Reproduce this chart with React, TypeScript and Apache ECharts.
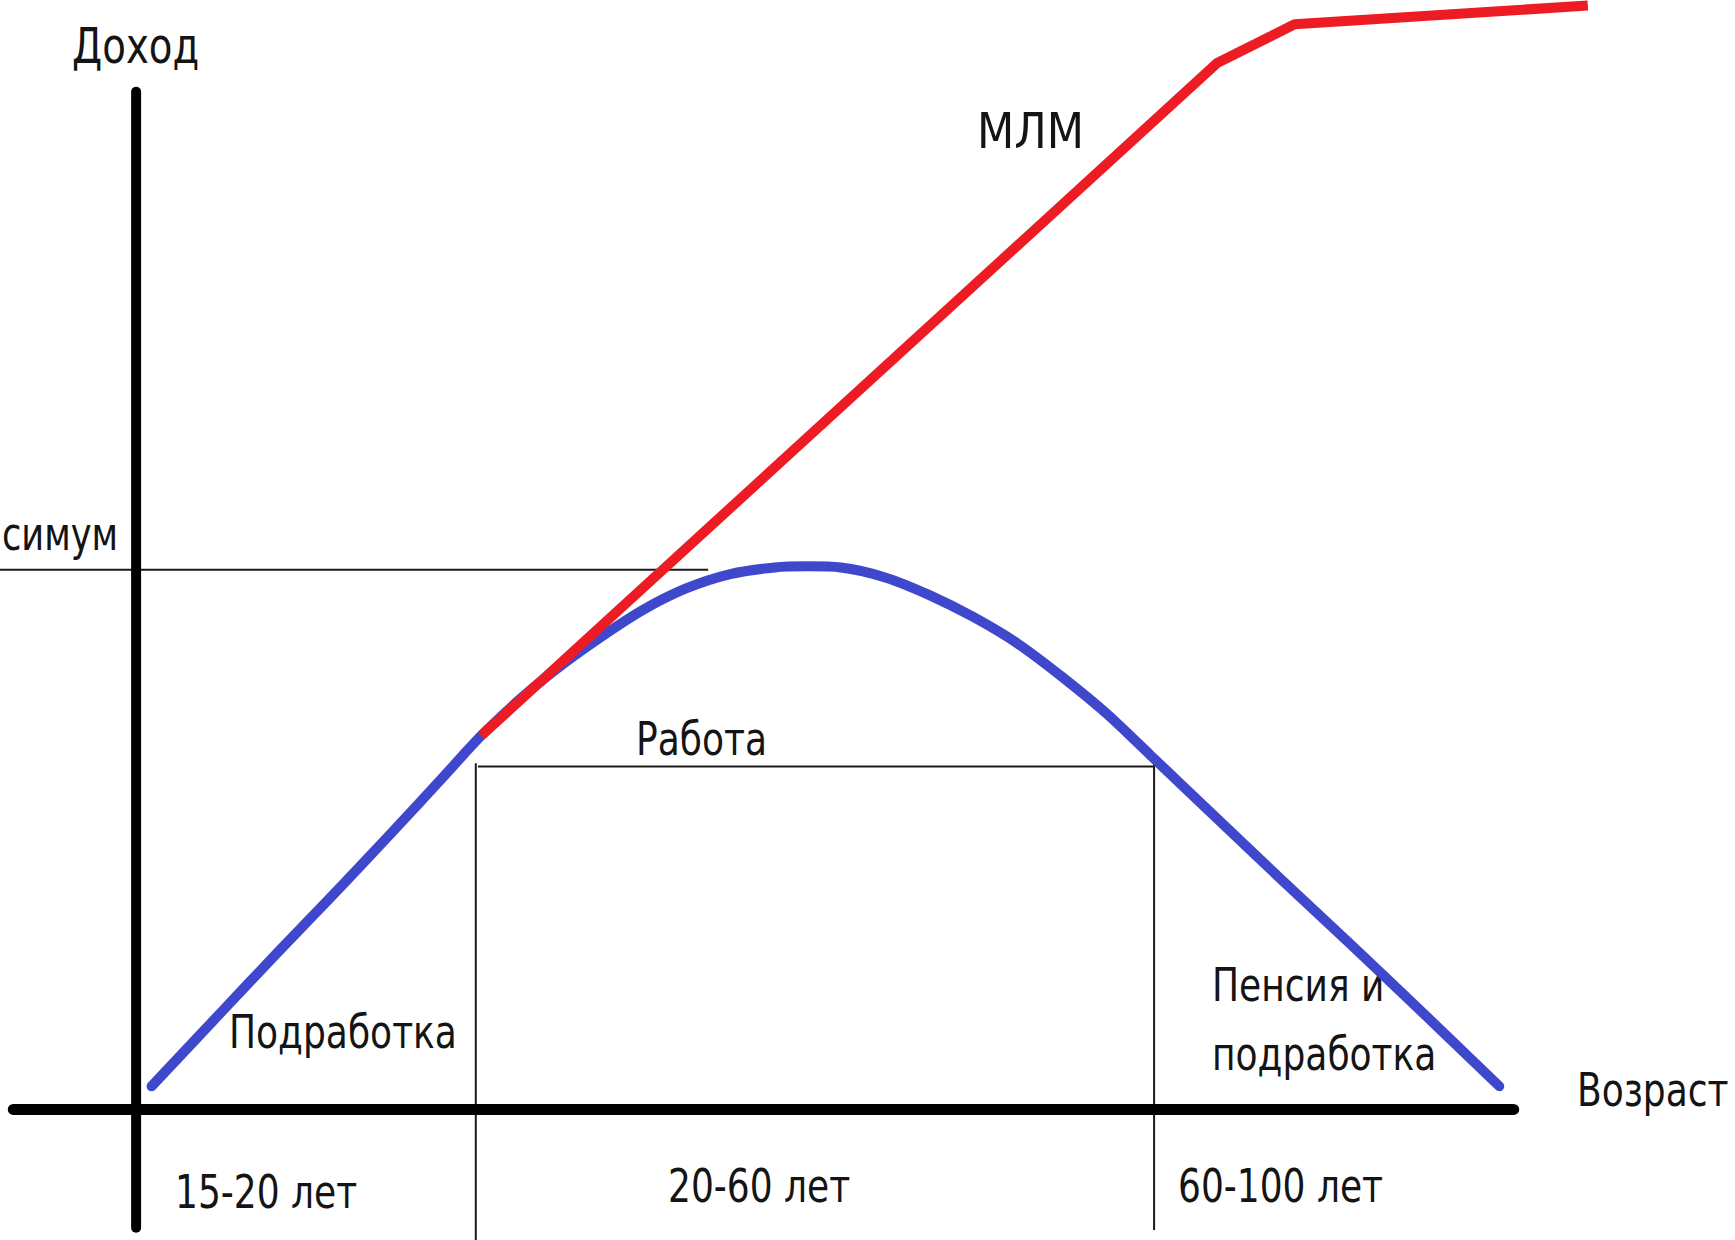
import React, { useEffect, useRef } from "react";
import * as echarts from "echarts";

// Abstract sketch units: origin at the axes' crossing (x: age direction, y: income)
const xAxisLineX = [-111, 1245];
const xAxisLineY = [0, 0];
const yAxisLineX = [0, 0];
const yAxisLineY = [-107, 920];
const blueX = [14, 77, 127, 177, 227, 277, 312, 347, 377, 417, 457, 497, 537, 577, 607, 637, 677, 717, 757, 797, 837, 877, 917, 977, 1037, 1097, 1157, 1232];
const blueY = [21, 88, 141, 193, 246, 300, 338, 371, 396, 425, 451, 471, 484, 490, 491, 490, 481, 465, 445, 421, 391, 358, 320, 263, 206, 150, 93, 21];
const redX = [312, 977, 1047, 1312];
const redY = [338, 946, 981, 998];
const maxLineX = [-123, 517];
const maxLineY = [488, 488];
const workLineX = [309, 920];
const workLineY = [310, 310];
const leftSepX = [307, 307];
const leftSepY = [313, -118];
const rightSepX = [920, 920];
const rightSepY = [313, -109];

const zip = (xs: number[], ys: number[]) => xs.map((x, i) => [x, ys[i]]);

const FONT = '"Liberation Sans Narrow", "DejaVu Sans Condensed", "Noto Sans", sans-serif';

export default function App() {
  const ref = useRef<HTMLDivElement>(null);
  useEffect(() => {
    if (!ref.current) return;
    const chart = echarts.init(ref.current, null, { renderer: "svg" });
    const txt = (text: string, x: number, y: number, size = 46, align = "left", sx = 0.87) => ({
      type: "text",
      x,
      y,
      scaleX: sx,
      style: {
        text,
        fill: "#141414",
        font: `${size}px ${FONT}`,
        textAlign: align,
        textVerticalAlign: "middle",
      },
    });
    const line = (xs: number[], ys: number[], color: string, width: number, cap = "round") => ({
      type: "line",
      data: zip(xs, ys),
      symbol: "none",
      clip: false,
      silent: true,
      lineStyle: { color, width, cap, join: "round" },
    });
    chart.setOption({
      animation: false,
      backgroundColor: "#ffffff",
      grid: { left: 0, right: 0, top: 0, bottom: 0 },
      xAxis: { type: "value", min: -123, max: 1445, show: false },
      yAxis: { type: "value", min: -118, max: 1003, show: false },
      series: [
        line(maxLineX, maxLineY, "#1a1a1a", 2, "butt"),
        line(workLineX, workLineY, "#1a1a1a", 2, "butt"),
        line(leftSepX, leftSepY, "#1a1a1a", 2, "butt"),
        line(rightSepX, rightSepY, "#1a1a1a", 2, "butt"),
        line(xAxisLineX, xAxisLineY, "#000000", 11),
        line(yAxisLineX, yAxisLineY, "#000000", 10),
        { ...line(blueX, blueY, "#3f48cc", 10), smooth: 0.3 },
        line(redX, redY, "#ed1c24", 10, "butt"),
      ],
      graphic: [
        txt("Доход", 72, 46, 50, "left", 0.86),
        txt("симум", 2, 534, 46, "left", 0.85),
        txt("МЛМ", 977, 131, 50, "left", 0.96),
        txt("Работа", 636, 739),
        txt("Подработка", 229, 1032),
        txt("Пенсия и", 1212, 985),
        txt("подработка", 1212, 1054),
        txt("Возраст", 1577, 1090),
        txt("15-20 лет", 175, 1192),
        txt("20-60 лет", 668, 1186),
        txt("60-100 лет", 1178, 1186),
      ],
    });
    return () => chart.dispose();
  }, []);
  return (
    <div
      ref={ref}
      style={{ position: "absolute", left: 0, top: 0, width: 1735, height: 1240, background: "#fff" }}
    />
  );
}
